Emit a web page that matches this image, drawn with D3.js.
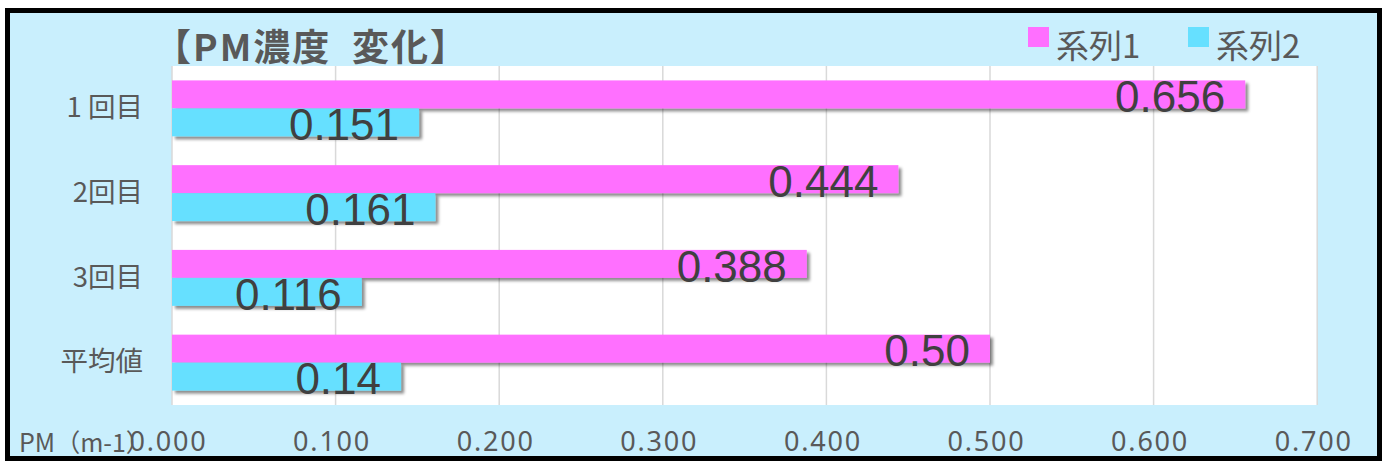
<!DOCTYPE html>
<html>
<head>
<meta charset="utf-8">
<script src="https://cdn.jsdelivr.net/npm/d3@7"></script>
<style>
  html, body { margin: 0; padding: 0; background: #ffffff; }
  svg { display: block; }
</style>
</head>
<body>
<svg id="chart" width="1387" height="464"></svg>
<script>
// Categories and the two series of PM readings
const categories = ["1 回目", "2回目", "3回目", "平均値"];
const seriesNames = ["系列1", "系列2"];
const series1 = [0.656, 0.444, 0.388, 0.50];
const series2 = [0.151, 0.161, 0.116, 0.14];
const labelDecimals = [3, 3, 3, 2];
const xTicks = [0, 0.1, 0.2, 0.3, 0.4, 0.5, 0.6, 0.7];
const titleText = "【PM濃度  変化】";
const axisUnit = "PM（m-1）";

const colors = ["#ff6fff", "#66e0ff"];
const textGray = "#595959";

const svg = d3.select("#chart");

// drop shadow used by the bars
const defs = svg.append("defs");
const f = defs.append("filter").attr("id", "shadow")
  .attr("x", "-5%").attr("y", "-30%").attr("width", "110%").attr("height", "180%");
f.append("feDropShadow").attr("dx", 3).attr("dy", 3).attr("stdDeviation", 1.8)
  .attr("flood-color", "#000").attr("flood-opacity", 0.45);

// chart background and frame
svg.append("rect").attr("x", 7.5).attr("y", 10.5).attr("width", 1372).attr("height", 448)
  .attr("fill", "#c9effd").attr("stroke", "#000").attr("stroke-width", 5);

const plot = { left: 172, top: 66, bottom: 405 };

const x = d3.scaleLinear().domain([0, 0.7]).range([plot.left, plot.left + 1636 * 0.7]);
const y = d3.scaleBand().domain(categories).range([plot.top, plot.bottom]).paddingInner(0.34).paddingOuter(0.17);
const ySub = d3.scaleBand().domain([0, 1]).range([0, y.bandwidth()]);

// plot area
svg.append("rect").attr("x", plot.left).attr("y", plot.top)
  .attr("width", x(0.7) - plot.left).attr("height", plot.bottom - plot.top)
  .attr("fill", "#ffffff");

// vertical gridlines
svg.append("g").selectAll("line").data(xTicks).join("line")
  .attr("x1", d => x(d)).attr("x2", d => x(d))
  .attr("y1", plot.top).attr("y2", plot.bottom)
  .attr("stroke", "#d9d9d9").attr("stroke-width", 1.5);

// x axis tick labels
const xAxis = d3.axisBottom(x).tickValues(xTicks).tickFormat(d3.format(".3f")).tickSize(0).tickPadding(0);
const gx = svg.append("g").attr("transform", `translate(-4, 432)`).call(xAxis);
gx.select(".domain").remove();
gx.selectAll("text").attr("font-family", "'Noto Sans', 'Open Sans', sans-serif")
  .attr("font-size", 27).attr("letter-spacing", 1.8).attr("fill", textGray);

// category labels
const yAxis = d3.axisLeft(y).tickSize(0).tickPadding(29);
const gy = svg.append("g").attr("transform", `translate(${plot.left}, 0)`).call(yAxis);
gy.select(".domain").remove();
gy.selectAll("text").attr("font-family", "'Noto Sans CJK JP', sans-serif")
  .attr("font-size", 27.5).attr("fill", textGray).style("white-space", "pre");

// bars
const seriesData = [series1, series2];
const groups = svg.append("g").selectAll("g").data(seriesData).join("g")
  .attr("fill", (d, i) => colors[i]);
groups.each(function (vals, si) {
  d3.select(this).selectAll("rect").data(vals).join("rect")
    .attr("x", x(0))
    .attr("y", (d, ci) => y(categories[ci]) + ySub(si))
    .attr("width", d => x(d) - x(0))
    .attr("height", ySub.bandwidth())
    .attr("filter", "url(#shadow)");
});

// value labels
const labels = svg.append("g");
seriesData.forEach((vals, si) => {
  labels.append("g").selectAll("text").data(vals).join("text")
    .attr("x", d => x(d) - 20)
    .attr("y", (d, ci) => y(categories[ci]) + ySub(si) + ySub.bandwidth() / 2 + 2)
    .attr("dy", "0.36em")
    .attr("text-anchor", "end")
    .attr("font-family", "'Liberation Sans', Arial, sans-serif")
    .attr("font-size", 44)
    .attr("fill", "#404040")
    .text((d, ci) => d.toFixed(labelDecimals[ci]));
});

// axis unit label
svg.append("text").attr("x", 19).attr("y", 452)
  .attr("font-family", "'Noto Sans CJK JP', sans-serif").attr("font-size", 25)
  .attr("fill", textGray).text(axisUnit);

// title
svg.append("text").attr("x", 154).attr("y", 61)
  .attr("font-family", "'Noto Sans CJK JP', sans-serif").attr("font-size", 37)
  .attr("letter-spacing", 2)
  .attr("font-weight", "bold").attr("fill", textGray)
  .style("white-space", "pre")
  .text(titleText);

// legend
const legendX = [1028, 1188];
const lg = svg.append("g").selectAll("g").data(seriesNames).join("g")
  .attr("transform", (d, i) => `translate(${legendX[i]}, 27)`);
lg.append("rect").attr("width", 21).attr("height", 20).attr("fill", (d, i) => colors[i]);
lg.append("text").attr("x", 28).attr("y", 31)
  .attr("font-family", "'Noto Sans CJK JP', sans-serif").attr("font-size", 33)
  .attr("fill", textGray).text(d => d);
</script>
</body>
</html>
